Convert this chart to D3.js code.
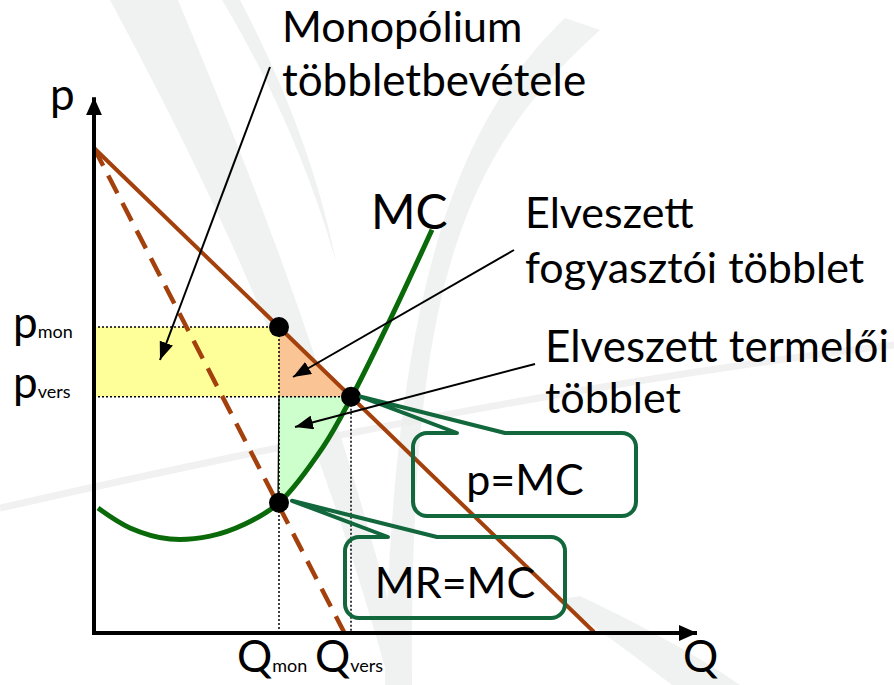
<!DOCTYPE html>
<html>
<head>
<meta charset="utf-8">
<script src="https://cdn.jsdelivr.net/npm/d3@7"></script>
<style>
  body { margin: 0; background: #fff; }
  svg { display: block; font-family: Lato, "Open Sans", sans-serif; }
</style>
</head>
<body>
<svg id="chart" width="894" height="685"></svg>
<script>
// market curves, Q = quantity, p = price
var demandQ = [0, 100], demandP = [100, 0];
var mrQ = [0, 50], mrP = [100, 0];
var mcQ = [0.8, 7.2, 15.2, 23.2, 30.2, 37, 45.8, 51.4, 59.2, 67.6];
var mcP = [25.6, 21.5, 19.2, 19.8, 22.3, 26.7, 38.2, 48.3, 64.5, 83.1];
// equilibrium points
var qMon = 37, pMon = 63, mrMcP = 26.7;
var qVers = 51.4, pVers = 48.6;
var qMax = 120.6, pMax = 110.5;

var svg = d3.select("#chart");
var x = d3.scaleLinear().domain([0, 120]).range([94, 694]);
var y = d3.scaleLinear().domain([0, 100]).range([632, 148]);

var brown = "#a3400c", green = "#0a6a0a", boxGreen = "#12683c";

// faint leaf watermark in the background
var wm = svg.append("g").attr("fill", "#e6ebe7").attr("opacity", 0.6);
wm.append("path").attr("d", "M110,0 C190,150 300,360 390,685 L410,685 C330,360 240,150 178,0 Z");
wm.append("path").attr("d", "M565,18 C470,110 392,260 385,685 L412,685 C410,300 455,160 600,30 Z");
wm.append("path").attr("d", "M222,0 C270,80 310,170 336,262 C318,170 282,80 240,0 Z");
wm.append("path").attr("d", "M556,600 C600,630 640,660 672,685 L740,685 C690,650 630,620 580,596 Z");
svg.append("path").attr("d", "M0,508 C300,440 600,380 894,345")
  .attr("fill", "none").attr("stroke", "#eceeec").attr("stroke-width", 7).attr("opacity", 0.8);

// monopoly extra revenue (yellow rectangle)
svg.append("rect")
  .attr("x", x(0)).attr("y", y(pMon))
  .attr("width", x(qMon) - x(0)).attr("height", y(pVers) - y(pMon))
  .attr("fill", "#ffff99");

// lost consumer surplus (orange triangle)
svg.append("path")
  .datum([[qMon, pMon], [qMon, pVers], [qVers, pVers]])
  .attr("d", d3.line().x(function (d) { return x(d[0]); }).y(function (d) { return y(d[1]); }))
  .attr("fill", "#fbc495");

// lost producer surplus (green area between pVers and MC)
var mcData = mcQ.map(function (q, i) { return [q, mcP[i]]; });
var mcCurve = d3.curveCatmullRom.alpha(0.5);
svg.append("clipPath").attr("id", "psClip")
  .append("rect")
  .attr("x", x(qMon)).attr("y", y(pVers))
  .attr("width", x(qVers) - x(qMon)).attr("height", y(0) - y(pVers));
svg.append("path")
  .datum(mcData)
  .attr("clip-path", "url(#psClip)")
  .attr("d", d3.area().curve(mcCurve)
    .x(function (d) { return x(d[0]); })
    .y0(function (d) { return y(d[1]); })
    .y1(y(pVers)))
  .attr("fill", "#ccffcc");

// dotted guide lines
var guides = [
  [0, pMon, qMon, pMon], [0, pVers, qVers, pVers],
  [qMon, pMon, qMon, 0], [qVers, pVers, qVers, 0]
];
svg.append("g").selectAll("line").data(guides).enter().append("line")
  .attr("x1", function (d) { return x(d[0]); }).attr("y1", function (d) { return y(d[1]); })
  .attr("x2", function (d) { return x(d[2]); }).attr("y2", function (d) { return y(d[3]); })
  .attr("stroke", "#000").attr("stroke-width", 1.5).attr("stroke-dasharray", "2,2");
svg.append("line")
  .attr("x1", x(qMon)).attr("y1", y(pVers)).attr("x2", x(qMon) - 1).attr("y2", y(mrMcP))
  .attr("stroke", "#000").attr("stroke-width", 1.3);

// demand, MR and MC curves
var line = d3.line().x(function (d) { return x(d[0]); }).y(function (d) { return y(d[1]); });
svg.append("path")
  .datum(demandQ.map(function (q, i) { return [q, demandP[i]]; }))
  .attr("d", line).attr("fill", "none").attr("stroke", brown).attr("stroke-width", 4);
svg.append("path")
  .datum(mrQ.map(function (q, i) { return [q, mrP[i]]; }))
  .attr("d", line).attr("fill", "none").attr("stroke", brown).attr("stroke-width", 4.5)
  .attr("stroke-dasharray", "20,11");
svg.append("path")
  .datum(mcData)
  .attr("d", line.curve(mcCurve)).attr("fill", "none").attr("stroke", green).attr("stroke-width", 5);

// arrow markers
var defs = svg.append("defs");
defs.append("marker").attr("id", "axisHead")
  .attr("markerUnits", "userSpaceOnUse").attr("viewBox", "0 0 18 16")
  .attr("refX", 18).attr("refY", 8).attr("markerWidth", 18).attr("markerHeight", 16)
  .attr("orient", "auto")
  .append("path").attr("d", "M0,0 L18,8 L0,16 Z").attr("fill", "#000");
defs.append("marker").attr("id", "thinHead")
  .attr("markerUnits", "userSpaceOnUse").attr("viewBox", "0 0 18 14")
  .attr("refX", 18).attr("refY", 7).attr("markerWidth", 18).attr("markerHeight", 14)
  .attr("orient", "auto")
  .append("path").attr("d", "M0,0 L18,7 L0,14 Z").attr("fill", "#000");

// axes
svg.append("line")
  .attr("x1", x(0)).attr("y1", y(0) + 2).attr("x2", x(0)).attr("y2", y(pMax))
  .attr("stroke", "#000").attr("stroke-width", 4).attr("marker-end", "url(#axisHead)");
svg.append("line")
  .attr("x1", x(0) - 2).attr("y1", y(0) + 1).attr("x2", x(qMax)).attr("y2", y(0) + 1)
  .attr("stroke", "#000").attr("stroke-width", 4).attr("marker-end", "url(#axisHead)");

// equilibrium dots
svg.append("g").selectAll("circle")
  .data([[qMon, pMon], [qVers, pVers], [qMon, mrMcP]])
  .enter().append("circle")
  .attr("cx", function (d) { return x(d[0]); })
  .attr("cy", function (d) { return y(d[1]); })
  .attr("r", 10).attr("fill", "#000");

// callout boxes
function callout(x0, y0, x1, y1, b0, b1, tx, ty) {
  var r = 14, p = d3.path();
  p.moveTo(x0 + r, y0);
  p.lineTo(b0, y0);
  p.lineTo(tx, ty);
  p.lineTo(b1, y0);
  p.lineTo(x1 - r, y0);
  p.arcTo(x1, y0, x1, y0 + r, r);
  p.lineTo(x1, y1 - r);
  p.arcTo(x1, y1, x1 - r, y1, r);
  p.lineTo(x0 + r, y1);
  p.arcTo(x0, y1, x0, y1 - r, r);
  p.lineTo(x0, y0 + r);
  p.arcTo(x0, y0, x0 + r, y0, r);
  p.closePath();
  return p.toString();
}
svg.append("path")
  .attr("d", callout(413, 433, 636, 516, 457, 505, x(qVers) + 10, y(pVers)))
  .attr("fill", "none").attr("stroke", boxGreen).attr("stroke-width", 4).attr("stroke-linejoin", "round");
svg.append("path")
  .attr("d", callout(345, 537, 565, 618, 388, 437, x(qMon) + 13, y(mrMcP) - 2))
  .attr("fill", "none").attr("stroke", boxGreen).attr("stroke-width", 4).attr("stroke-linejoin", "round");

// pointer arrows
var arrows = [
  [270, 67, 160, 360],
  [514, 250, 293, 377],
  [535, 364, 295, 427]
];
svg.append("g").selectAll("line").data(arrows).enter().append("line")
  .attr("x1", function (d) { return d[0]; }).attr("y1", function (d) { return d[1]; })
  .attr("x2", function (d) { return d[2]; }).attr("y2", function (d) { return d[3]; })
  .attr("stroke", "#000").attr("stroke-width", 2).attr("marker-end", "url(#thinHead)");

// texts
function label(tx, ty, parts, anchor) {
  var t = svg.append("text").attr("x", tx).attr("y", ty).attr("fill", "#000")
    .attr("text-anchor", anchor || "start");
  parts.forEach(function (p) {
    t.append("tspan").attr("font-size", p[1]).text(p[0]);
  });
  return t;
}
label(50, 110, [["p", 44]]);
label(683, 672, [["Q", 44]]);
label(282, 42, [["Monopólium", 43]]);
label(282, 96, [["többletbevétele", 44]]);
label(371, 229, [["MC", 48]]);
label(525, 228, [["Elveszett", 43]]);
label(525, 283, [["fogyasztói többlet", 43]]);
label(545, 362, [["Elveszett termelői", 44]]);
label(545, 413, [["többlet", 43]]);
label(525, 495, [["p=MC", 43]], "middle");
label(455, 598, [["MR=MC", 43]], "middle");

// tick-like labels on the axes
label(13, y(pMon) + 11, [["p", 44], ["mon", 18]]);
label(13, y(pVers) + 1, [["p", 44], ["vers", 18]]);
label(x(qMon) - 42, 672, [["Q", 44], ["mon", 18]]);
label(x(qVers) - 36, 672, [["Q", 44], ["vers", 18]]);
</script>
</body>
</html>
